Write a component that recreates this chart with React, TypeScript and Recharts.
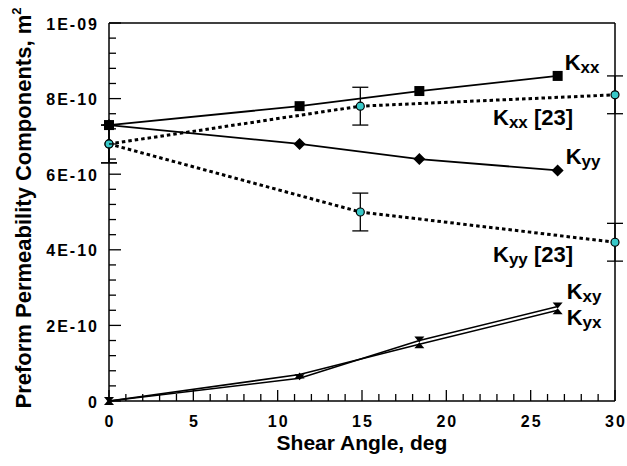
import { LineChart, Line, XAxis, YAxis, ErrorBar, ReferenceLine, LabelList } from "recharts";

const FONT = "'Liberation Sans', Arial, Helvetica, sans-serif";
const W = 627;
const H = 466;
const LEFT = 109;
const RIGHT = 12;
const TOP = 23;
const BOTTOM = 65;
const Y_AXIS_W = 60;
const X_AXIS_H = 30;
const PLOT_BOTTOM = H - BOTTOM;
const CYAN = "#38c8c8";

// permeability values in units of 1E-10 m^2
const angle = [0, 11.3, 18.4, 26.6];
const kxx = [7.3, 7.8, 8.2, 8.6];
const kyy = [7.3, 6.8, 6.4, 6.1];
const kxy = [0, 0.6, 1.6, 2.5];
const kyx = [0, 0.7, 1.5, 2.4];

// reference [23]
const refAngle = [0, 14.9, 30];
const kxxRef = [6.8, 7.8, 8.1];
const kyyRef = [6.8, 5.0, 4.2];
const refErr = [0.5, 0.5, 0.5];

const xTicks = Array.from({ length: 31 }, (_, i) => i);
const yTicks = Array.from({ length: 26 }, (_, i) => Math.round(i * 4) / 10);
const yLabels: Record<string, string> = {
  "0": "0",
  "2": "2E-10",
  "4": "4E-10",
  "6": "6E-10",
  "8": "8E-10",
  "10": "1E-09",
};

const toRows = (xs: number[], ys: number[], err?: number[]) =>
  xs.map((x, i) => ({ x, y: ys[i], err: err ? err[i] : 0 }));

const kxxData = toRows(angle, kxx);
const kyyData = toRows(angle, kyy);
const kxyData = toRows(angle, kxy);
const kyxData = toRows(angle, kyx);
const kxxRefData = toRows(refAngle, kxxRef, refErr);
const kyyRefData = toRows(refAngle, kyyRef, refErr);

function XTick({ x, payload }: any) {
  const v = payload.value;
  const major = v % 5 === 0;
  return (
    <g>
      <line x1={x} x2={x} y1={PLOT_BOTTOM} y2={PLOT_BOTTOM - (major ? 11 : 7)} stroke="#000" strokeWidth={1.3} />
      {major && (
        <text
          x={x + 1}
          y={PLOT_BOTTOM + 26}
          textAnchor="middle"
          fontFamily={FONT}
          fontWeight="bold"
          fontSize={16}
          letterSpacing={2}
          fill="#000"
        >
          {v}
        </text>
      )}
    </g>
  );
}

function YTick({ y, payload }: any) {
  const label = yLabels[String(payload.value)];
  return (
    <g>
      <line x1={LEFT} x2={LEFT + (label ? 12 : 7)} y1={y} y2={y} stroke="#000" strokeWidth={1.3} />
      {label && (
        <text
          x={99}
          y={y + 6.5}
          textAnchor="end"
          fontFamily={FONT}
          fontWeight="bold"
          fontSize={16}
          letterSpacing={2}
          fill="#000"
        >
          {label}
        </text>
      )}
    </g>
  );
}

const square = (p: any) => <rect key={p.index} x={p.cx - 5} y={p.cy - 5} width={10} height={10} fill="#000" />;
const diamond = (p: any) => (
  <path key={p.index} d={`M${p.cx},${p.cy - 6}L${p.cx + 6},${p.cy}L${p.cx},${p.cy + 6}L${p.cx - 6},${p.cy}Z`} fill="#000" />
);
const circle = (p: any) => <circle key={p.index} cx={p.cx} cy={p.cy} r={4} fill={CYAN} stroke="#000" strokeWidth={1.2} />;
const triDown = (p: any) => (
  <path key={p.index} d={`M${p.cx - 5},${p.cy - 4}L${p.cx + 5},${p.cy - 4}L${p.cx},${p.cy + 2}Z`} fill="#000" />
);
const triUp = (p: any) => (
  <path key={p.index} d={`M${p.cx - 5},${p.cy + 4}L${p.cx + 5},${p.cy + 4}L${p.cx},${p.cy - 2}Z`} fill="#000" />
);

function seriesLabel(sub: string, last: number, dx: number, dy: number, suffix = "") {
  return (p: any) => {
    if (p.index !== last) return null;
    return (
      <text x={p.x + dx} y={p.y + dy} fontFamily={FONT} fontWeight="bold" fontSize={22} fill="#000">
        K
        <tspan fontSize={17} dy={3}>
          {sub}
        </tspan>
        {suffix && <tspan dy={-3}>{suffix}</tspan>}
      </text>
    );
  };
}

export default function App() {
  return (
    <div style={{ position: "absolute", left: 0, top: 0, background: "#fff" }}>
      <LineChart
        width={W}
        height={H}
        margin={{ top: TOP, right: RIGHT, bottom: BOTTOM - X_AXIS_H, left: LEFT - Y_AXIS_W }}
      >
        <XAxis
          type="number"
          dataKey="x"
          domain={[0, 30]}
          ticks={xTicks}
          interval={0}
          height={X_AXIS_H}
          tickLine={false}
          tick={<XTick />}
          axisLine={{ stroke: "#000", strokeWidth: 1.5 }}
          allowDuplicatedCategory={false}
          label={{
            content: () => (
              <text x={362} y={450} textAnchor="middle" fontFamily={FONT} fontWeight="bold" fontSize={21} fill="#000">
                Shear Angle, deg
              </text>
            ),
          }}
        />
        <YAxis
          type="number"
          dataKey="y"
          domain={[0, 10]}
          ticks={yTicks}
          interval={0}
          width={Y_AXIS_W}
          tickLine={false}
          tick={<YTick />}
          axisLine={{ stroke: "#000", strokeWidth: 1.5 }}
          label={{
            content: () => (
              <text
                x={31}
                y={208}
                transform="rotate(-90 31 208)"
                textAnchor="middle"
                fontFamily={FONT}
                fontWeight="bold"
                fontSize={22}
                fill="#000"
              >
                Preform Permeability Components, m
                <tspan fontSize={13} dy={-10}>
                  2
                </tspan>
              </text>
            ),
          }}
        />
        <ReferenceLine y={10} stroke="#000" strokeWidth={1.5} />
        <ReferenceLine x={30} stroke="#000" strokeWidth={1.5} />
        <Line data={kxyData} dataKey="y" stroke="#000" strokeWidth={1.6} dot={triDown} isAnimationActive={false}>
          <LabelList dataKey="y" content={seriesLabel("xy", 3, 9, -8)} />
        </Line>
        <Line data={kyxData} dataKey="y" stroke="#000" strokeWidth={1.6} dot={triUp} isAnimationActive={false}>
          <LabelList dataKey="y" content={seriesLabel("yx", 3, 9, 15)} />
        </Line>
        <Line data={kxxRefData} dataKey="y" stroke="#000" strokeWidth={3} strokeDasharray="3.5 3" dot={circle} isAnimationActive={false}>
          <ErrorBar dataKey="err" direction="y" width={8} stroke="#000" strokeWidth={1.3} />
          <LabelList dataKey="y" content={seriesLabel("xx", 2, -122, 30, " [23]")} />
        </Line>
        <Line data={kyyRefData} dataKey="y" stroke="#000" strokeWidth={3} strokeDasharray="3.5 3" dot={circle} isAnimationActive={false}>
          <ErrorBar dataKey="err" direction="y" width={8} stroke="#000" strokeWidth={1.3} />
          <LabelList dataKey="y" content={seriesLabel("yy", 2, -122, 20, " [23]")} />
        </Line>
        <Line data={kxxData} dataKey="y" stroke="#000" strokeWidth={1.8} dot={square} isAnimationActive={false}>
          <LabelList dataKey="y" content={seriesLabel("xx", 3, 7, -6)} />
        </Line>
        <Line data={kyyData} dataKey="y" stroke="#000" strokeWidth={1.8} dot={diamond} isAnimationActive={false}>
          <LabelList dataKey="y" content={seriesLabel("yy", 3, 8, -6)} />
        </Line>
      </LineChart>
    </div>
  );
}
